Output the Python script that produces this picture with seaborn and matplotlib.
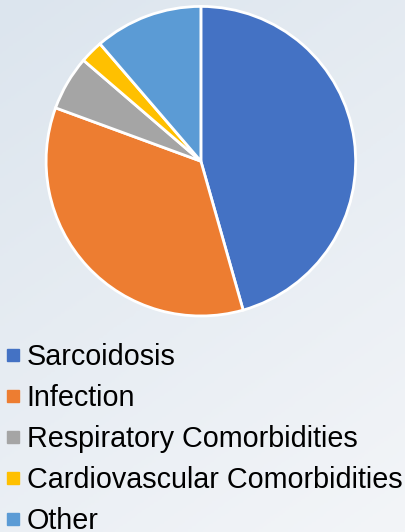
import numpy as np
import matplotlib
matplotlib.use("Agg")
import matplotlib.pyplot as plt
import seaborn as sns
from matplotlib.lines import Line2D
from matplotlib.colors import LinearSegmentedColormap

# data (share of cases, %)
categories = ["Sarcoidosis", "Infection", "Respiratory Comorbidities",
              "Cardiovascular Comorbidities", "Other"]
shares = [45.6, 35.0, 5.7, 2.4, 11.3]
colors = ["#4472C4", "#ED7D31", "#A5A5A5", "#FFC000", "#5B9BD5"]

sns.set_theme(style="white")
plt.rcParams["font.family"] = ["Liberation Sans", "DejaVu Sans"]

fig = plt.figure(figsize=(4.05, 5.32), dpi=100)

# soft gradient background, like the slide behind the chart
bg = fig.add_axes([0, 0, 1, 1], zorder=-10)
gx, gy = np.meshgrid(np.linspace(0, 1, 200), np.linspace(0, 1, 200))
grad = (gx * 0.35 + gy * 0.65)
cmap = LinearSegmentedColormap.from_list("bg", ["#dce5ee", "#f3f5f8"])
bg.imshow(grad, cmap=cmap, aspect="auto", extent=[0, 1, 0, 1], origin="upper")
bg.axis("off")

ax = fig.add_axes([0.110, 0.402, 0.772, 0.590])
wedges, _ = ax.pie(shares, colors=colors, startangle=90, counterclock=False,
                   wedgeprops=dict(edgecolor="white", linewidth=2))
ax.set_aspect("equal")
ax.set_xlim(-1.01, 1.01)
ax.set_ylim(-1.01, 1.01)
ax.axis("off")

handles = [Line2D([0], [0], marker="s", linestyle="none", markersize=9,
                  markerfacecolor=c, markeredgecolor=c) for c in colors]
leg = fig.legend(handles, categories, loc="upper left", bbox_to_anchor=(-0.017, 0.376),
                 frameon=False, fontsize=20.7, handlelength=0.6, handletextpad=0.17,
                 labelspacing=0.45, borderaxespad=0)
for t in leg.get_texts():
    t.set_color("black")

fig.savefig("out.png", dpi=100)
